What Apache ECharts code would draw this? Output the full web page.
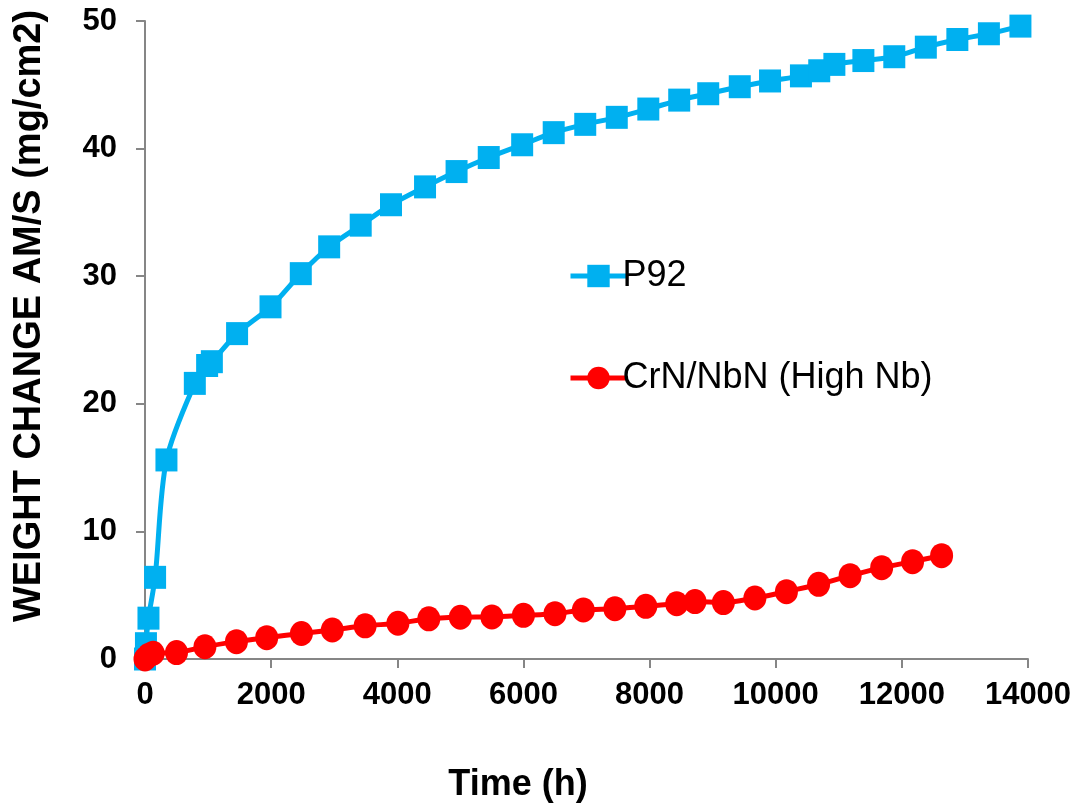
<!DOCTYPE html>
<html>
<head>
<meta charset="utf-8">
<script src="https://cdn.jsdelivr.net/npm/echarts@6/dist/echarts.min.js"></script>
<style>html,body{margin:0;padding:0;background:#fff}#c{width:1078px;height:807px}</style>
</head>
<body>
<div id="c"></div>
<script>
var p92Time = [0, 15, 55, 160, 340, 790, 985, 1060, 1460, 1990, 2470, 2920, 3420, 3900, 4440, 4940, 5450, 5980, 6480, 6980, 7480, 7980, 8470, 8930, 9430, 9910, 10400, 10690, 10930, 11390, 11880, 12380, 12880, 13380, 13880];
var p92Weight = [0, 1.2, 3.2, 6.4, 15.6, 21.6, 23.0, 23.3, 25.5, 27.6, 30.2, 32.3, 34.0, 35.6, 37.0, 38.2, 39.3, 40.3, 41.25, 41.9, 42.45, 43.1, 43.8, 44.3, 44.85, 45.3, 45.7, 46.1, 46.6, 46.9, 47.2, 47.95, 48.55, 49.0, 49.6];
var crnTime = [0, 60, 130, 500, 950, 1450, 1930, 2480, 2970, 3490, 4010, 4500, 5000, 5500, 6000, 6500, 6950, 7450, 7940, 8430, 8720, 9170, 9670, 10170, 10680, 11180, 11680, 12170, 12630];
var crnWeight = [0, 0.3, 0.45, 0.5, 0.96, 1.36, 1.67, 2.0, 2.27, 2.6, 2.8, 3.15, 3.27, 3.3, 3.42, 3.55, 3.84, 3.94, 4.13, 4.33, 4.5, 4.42, 4.78, 5.28, 5.85, 6.53, 7.16, 7.63, 8.1];
var seriesNames = ['P92', 'CrN/NbN (High Nb)'];
var xTitle = 'Time (h)';
var yTitle = 'WEIGHT CHANGE AM/S (mg/cm2)';

function pairs(xs, ys) { return xs.map(function (x, i) { return [x, ys[i]]; }); }

var chart = echarts.init(document.getElementById('c'));
chart.setOption({
  animation: false,
  backgroundColor: '#ffffff',
  grid: { left: 145, right: 50, top: 21, bottom: 148, containLabel: false },
  xAxis: {
    type: 'value', min: 0, max: 14000, interval: 2000,
    axisLine: { lineStyle: { color: '#868686', width: 2 } },
    axisTick: { show: true, length: 9, lineStyle: { color: '#868686', width: 2 } },
    splitLine: { show: false },
    axisLabel: { fontFamily: 'Liberation Sans, Arial, sans-serif', fontWeight: 'bold', fontSize: 31, color: '#000', margin: 21,
      formatter: function (v) { return String(v); } }
  },
  yAxis: {
    type: 'value', min: 0, max: 50, interval: 10,
    axisLine: { show: true, lineStyle: { color: '#868686', width: 2 } },
    axisTick: { show: true, length: 9, lineStyle: { color: '#868686', width: 2 } },
    splitLine: { show: false },
    axisLabel: { fontFamily: 'Liberation Sans, Arial, sans-serif', fontWeight: 'bold', fontSize: 31, color: '#000', margin: 28 }
  },
  legend: {
    orient: 'vertical', left: 563, top: 251,
    itemWidth: 56, itemHeight: 28, itemGap: 62,
    lineStyle: { width: 5 },
    textStyle: { fontFamily: 'Liberation Sans, Arial, sans-serif', fontSize: 36, color: '#000', lineHeight: 40, padding: [0, 0, 0, -9] },
    data: seriesNames
  },
  graphic: [
    { type: 'text', x: 518, y: 785, style: { text: xTitle, font: 'bold 36px "Liberation Sans", Arial, sans-serif', fill: '#000', textAlign: 'center', textVerticalAlign: 'middle' } },
    { type: 'text', x: 30, y: 316, rotation: Math.PI / 2, style: { text: yTitle, font: 'bold 38px "Liberation Sans", Arial, sans-serif', fill: '#000', textAlign: 'center', textVerticalAlign: 'middle' } }
  ],
  series: [
    {
      name: seriesNames[0], type: 'line', data: pairs(p92Time, p92Weight),
      smooth: 0.3, symbol: 'rect', symbolSize: [22, 23],
      lineStyle: { color: '#00B0F0', width: 5 }, itemStyle: { color: '#00B0F0' },
      clip: false, z: 2
    },
    {
      name: seriesNames[1], type: 'line', data: pairs(crnTime, crnWeight),
      smooth: 0.3, symbol: 'circle', symbolSize: [23, 25],
      lineStyle: { color: '#FF0000', width: 5 }, itemStyle: { color: '#FF0000' },
      clip: false, z: 3
    }
  ]
});
</script>
</body>
</html>
